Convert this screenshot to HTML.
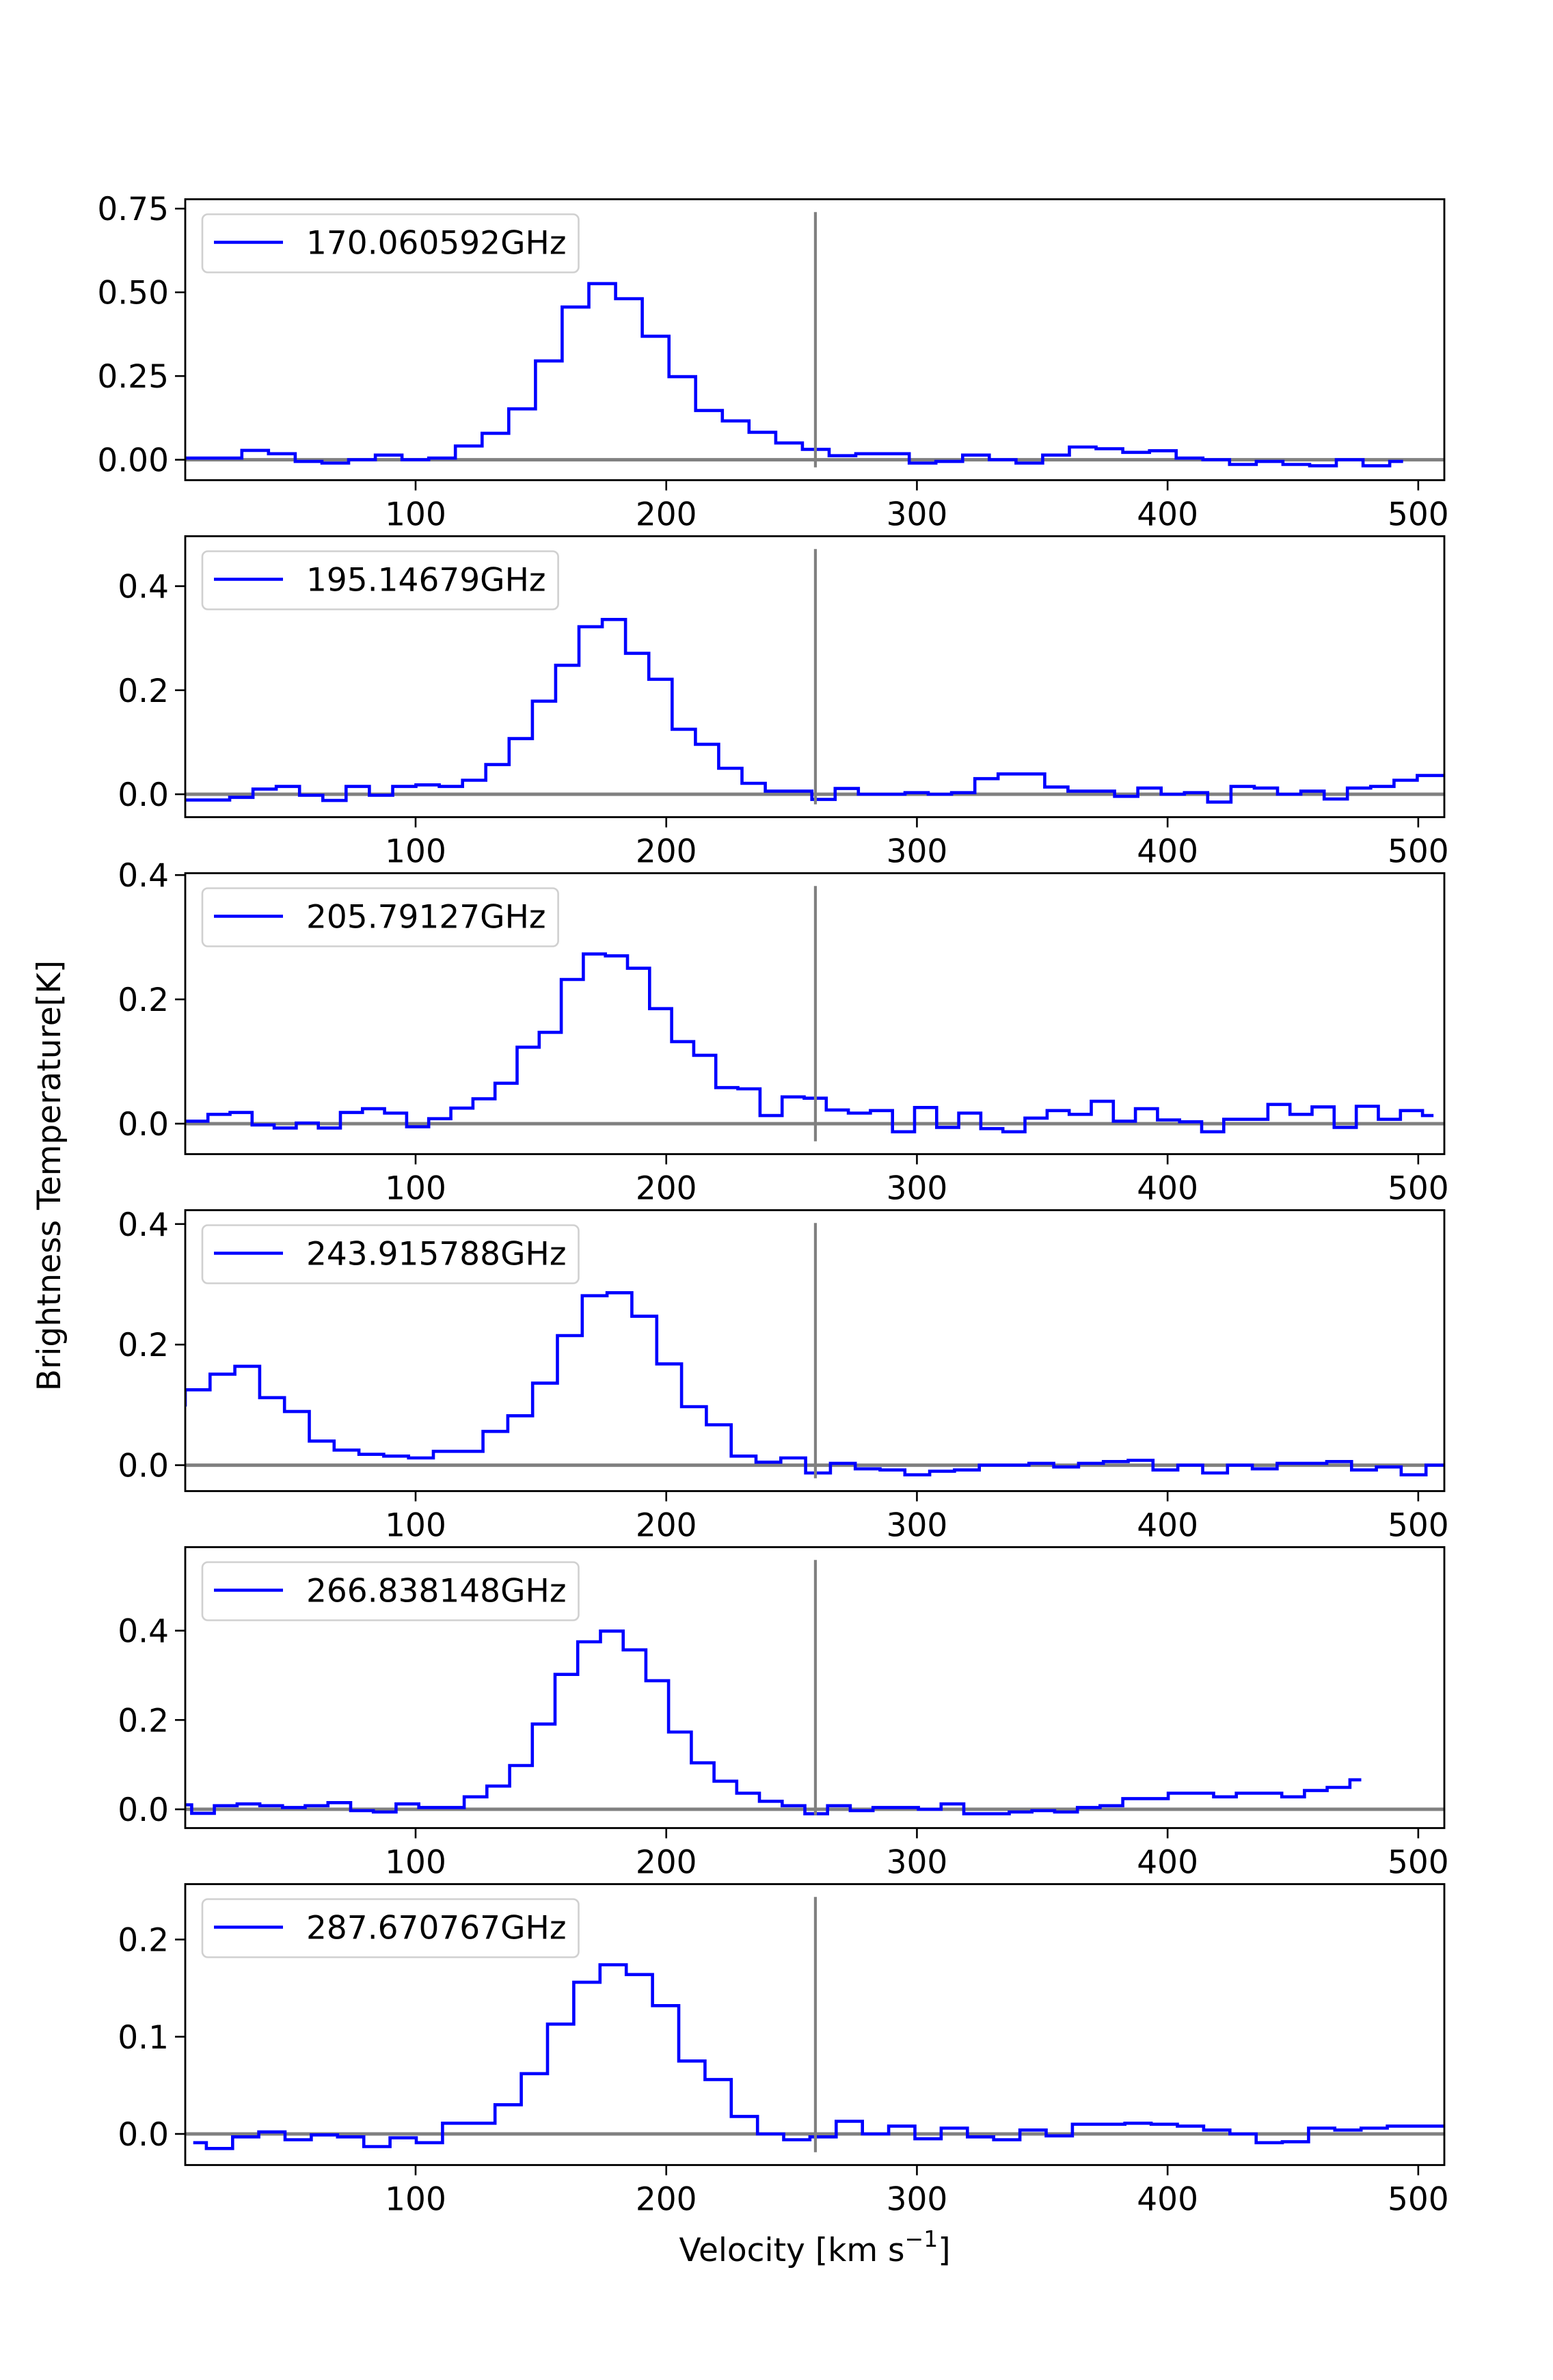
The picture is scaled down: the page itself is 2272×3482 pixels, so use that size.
<!DOCTYPE html>
<html><head><meta charset="utf-8"><title>Spectra</title>
<style>html,body{margin:0;padding:0;background:#fff}svg{display:block}text{font-family:"DejaVu Sans","Liberation Sans",sans-serif}</style>
</head><body>
<svg id="fig" xmlns="http://www.w3.org/2000/svg" width="2272" height="3482" viewBox="0 0 2272 3482"></svg>
<script>
const labels = ["170.060592GHz","195.14679GHz","205.79127GHz","243.915788GHz","266.838148GHz","287.670767GHz"];
const v0s = [4.05, 2.6, 3.93, 3.14, 6.14, 11.28];
const dvs = [10.65, 9.29, 8.81, 9.90, 9.06, 10.47];
const yMins = [-0.061, -0.044, -0.049, -0.043, -0.042, -0.032];
const yMaxs = [0.778, 0.496, 0.403, 0.423, 0.587, 0.257];
const yTickVals = [[0,0.25,0.5,0.75],[0,0.2,0.4],[0,0.2,0.4],[0,0.2,0.4],[0,0.2,0.4],[0,0.1,0.2]];
const yTickLabels = [["0.00","0.25","0.50","0.75"],["0.0","0.2","0.4"],["0.0","0.2","0.4"],["0.0","0.2","0.4"],["0.0","0.2","0.4"],["0.0","0.1","0.2"]];
const xTicks = [100,200,300,400,500];
const xMin = 8.1, xMax = 510.4;
const vLine = 259.5;
const s1 = [0.005,0.005,0.005,0.028,0.018,-0.005,-0.010,0,0.014,0,0.005,0.041,0.079,0.152,0.295,0.456,0.526,0.481,0.369,0.248,0.147,0.116,0.082,0.050,0.031,0.012,0.018,0.018,-0.010,-0.005,0.014,0,-0.010,0.014,0.038,0.033,0.022,0.027,0.005,0,-0.014,-0.005,-0.014,-0.018,0,-0.018,-0.005];
const s2 = [-0.011,-0.011,-0.011,-0.006,0.010,0.015,-0.002,-0.012,0.015,-0.002,0.015,0.018,0.015,0.027,0.057,0.107,0.179,0.248,0.322,0.336,0.271,0.221,0.125,0.096,0.050,0.021,0.006,0.006,-0.010,0.011,0,0,0.003,0,0.003,0.030,0.039,0.039,0.014,0.006,0.006,-0.004,0.012,0,0.003,-0.015,0.015,0.012,0,0.006,-0.009,0.012,0.015,0.027,0.036,0.036];
const s3 = [0.004,0.004,0.015,0.018,-0.002,-0.007,0.001,-0.007,0.018,0.024,0.017,-0.005,0.008,0.025,0.040,0.065,0.123,0.147,0.232,0.273,0.270,0.250,0.185,0.132,0.110,0.058,0.056,0.013,0.043,0.041,0.022,0.017,0.021,-0.013,0.026,-0.006,0.017,-0.008,-0.013,0.009,0.021,0.015,0.036,0.004,0.024,0.006,0.003,-0.013,0.007,0.007,0.031,0.015,0.027,-0.006,0.028,0.007,0.021,0.013];
const s4 = [0.100,0.125,0.151,0.164,0.112,0.089,0.040,0.025,0.018,0.015,0.012,0.023,0.023,0.056,0.082,0.136,0.215,0.281,0.286,0.247,0.168,0.097,0.067,0.015,0.005,0.012,-0.013,0.003,-0.006,-0.008,-0.016,-0.010,-0.008,0,0,0.003,-0.003,0.003,0.006,0.008,-0.008,0,-0.013,0,-0.006,0.003,0.003,0.006,-0.008,-0.003,-0.016,0,0];
const s5 = [0.010,-0.009,0.008,0.012,0.008,0.004,0.008,0.015,-0.003,-0.006,0.012,0.004,0.004,0.028,0.052,0.098,0.191,0.302,0.375,0.399,0.357,0.288,0.173,0.104,0.063,0.036,0.018,0.008,-0.010,0.008,-0.003,0.004,0.004,0,0.012,-0.010,-0.010,-0.006,-0.003,-0.006,0.004,0.008,0.024,0.024,0.036,0.036,0.028,0.036,0.036,0.028,0.042,0.049,0.066];
const s6 = [-0.009,-0.015,-0.003,0.002,-0.006,-0.001,-0.003,-0.013,-0.004,-0.009,0.011,0.011,0.030,0.062,0.113,0.156,0.174,0.164,0.132,0.075,0.056,0.018,0,-0.006,-0.003,0.013,0,0.008,-0.005,0.006,-0.003,-0.006,0.004,-0.002,0.010,0.010,0.011,0.010,0.008,0.004,0,-0.009,-0.008,0.006,0.004,0.006,0.008,0.008,0.008];
const series = [s1,s2,s3,s4,s5,s6];

const NS = "http://www.w3.org/2000/svg";
const fig = document.getElementById("fig");
const L = 271, R = 2113, H = 411, TOP0 = 291.5, GAP = 493;
const FS = 47;
function mk(tag, attrs, parent){const e=document.createElementNS(NS,tag);for(const k in attrs)e.setAttribute(k,attrs[k]);(parent||fig).appendChild(e);return e;}
function xs(v){return L + (v - xMin)/(xMax - xMin)*(R - L);}

const defs = mk("defs",{});
series.forEach((vals, p) => {
  const top = TOP0 + p*GAP, bot = top + H;
  const ys = v => bot - (v - yMins[p])/(yMaxs[p]-yMins[p])*H;
  const g = mk("g",{});
  
  
  const cp = mk("clipPath",{id:"c"+p},defs);
  mk("rect",{x:L,y:top,width:R-L,height:H},cp);
  const plot = mk("g",{"clip-path":"url(#c"+p+")"},g);
  const zl = mk("line",{x1:L,x2:R,y1:ys(0),y2:ys(0),stroke:"#808080","stroke-width":5},plot);
  
  
  const c = i => v0s[p] + i*dvs[p];
  let d = "M"+xs(c(0)).toFixed(1)+","+ys(vals[0]).toFixed(1);
  for(let i=0;i<vals.length-1;i++){
    const m = xs((c(i)+c(i+1))/2);
    d += " H"+m.toFixed(1)+" V"+ys(vals[i+1]).toFixed(1);
  }
  d += " H"+xs(c(vals.length-1)).toFixed(1);
  const sp = mk("path",{d:d,fill:"none",stroke:"#0000ff","stroke-width":4.6,"stroke-linejoin":"miter"},plot);
  
  
  const vl = mk("line",{x1:xs(vLine),x2:xs(vLine),y1:top+H*0.0455,y2:bot-H*0.0455,stroke:"#808080","stroke-width":4.2},plot);
  
  
  const fr = mk("rect",{x:L,y:top,width:R-L,height:H,fill:"none",stroke:"#000","stroke-width":2.8},g);
  
  
  xTicks.forEach(t=>{
    const x = xs(t);
    mk("line",{x1:x,x2:x,y1:bot,y2:bot+15,stroke:"#000","stroke-width":2.6},g);
    const tx = mk("text",{x:x,y:bot+66,"font-size":FS,"text-anchor":"middle",fill:"#000"},g);
    tx.textContent = t;
    
    
  });
  yTickVals[p].forEach((t,j)=>{
    const y = ys(t);
    mk("line",{x1:L-15,x2:L,y1:y,y2:y,stroke:"#000","stroke-width":2.6},g);
    const ty = mk("text",{x:L-24,y:y+17,"font-size":FS,"text-anchor":"end",fill:"#000"},g);
    ty.textContent = yTickLabels[p][j];
    
    
  });
  const lg = mk("g",{},g);
  
  
  const box = mk("rect",{x:296,y:top+22,width:549,height:85,rx:8,ry:8,fill:"#fff","fill-opacity":0.8,stroke:"#d0d0d0","stroke-width":2.6},lg);
  mk("line",{x1:313,x2:414,y1:top+63,y2:top+63,stroke:"#0000ff","stroke-width":4.6},lg);
  const lt = mk("text",{x:448,y:top+80,"font-size":FS,fill:"#000"},lg);
  lt.textContent = labels[p];
  
  
  try{const w = lt.getComputedTextLength(); box.setAttribute("width", (448 + w + 18) - 296);}catch(e){}
});
const yl = mk("text",{x:0,y:0,"font-size":FS,"text-anchor":"middle",fill:"#000",transform:"translate(88,1720) rotate(-90)"});
yl.textContent = "Brightness Temperature[K]";


const xl = mk("text",{x:1192,y:3308,"font-size":FS,"text-anchor":"middle",fill:"#000"});


xl.appendChild(document.createTextNode("Velocity [km s"));
const sup = mk("tspan",{"font-size":33,dy:-21},xl); sup.textContent = "\u22121";
const cl = mk("tspan",{"font-size":FS,dy:21},xl); cl.textContent = "]";
</script>
</body></html>
